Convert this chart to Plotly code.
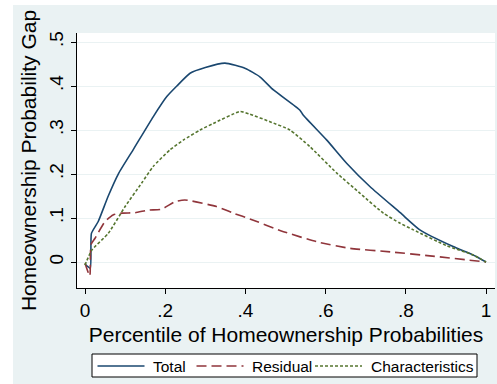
import plotly.graph_objects as go

# ---- data ----
total_x = [0, 0.013, 0.016, 0.033, 0.058, 0.083, 0.12, 0.17, 0.204, 0.229, 0.262, 0.3, 0.349,
           0.4, 0.436, 0.47, 0.536, 0.544, 0.603, 0.653, 0.711, 0.786, 0.835, 0.918, 0.968, 1.0]
total_y = [-0.005, -0.014, 0.065, 0.092, 0.15, 0.2, 0.255, 0.33, 0.376, 0.400, 0.429, 0.442, 0.452,
           0.44, 0.421, 0.391, 0.345, 0.334, 0.277, 0.224, 0.171, 0.112, 0.073, 0.035, 0.016, 0.0]

resid_x = [0, 0.012, 0.015, 0.025, 0.05, 0.07, 0.092, 0.125, 0.158, 0.191, 0.224, 0.249,
           0.328, 0.37, 0.411, 0.495, 0.578, 0.661, 0.761, 0.86, 1.0]
resid_y = [-0.003, -0.032, 0.04, 0.054, 0.092, 0.107, 0.111, 0.112, 0.118, 0.12, 0.137, 0.141,
           0.126, 0.111, 0.098, 0.069, 0.046, 0.031, 0.023, 0.014, 0.0]

char_x = [0, 0.017, 0.058, 0.1, 0.141, 0.17, 0.212, 0.245, 0.287, 0.32, 0.387, 0.411, 0.461,
          0.511, 0.561, 0.628, 0.686, 0.744, 0.786, 0.819, 0.902, 0.968, 1.0]
char_y = [-0.007, 0.027, 0.065, 0.126, 0.179, 0.217, 0.255, 0.277, 0.3, 0.315, 0.342, 0.336, 0.319,
          0.3, 0.262, 0.202, 0.156, 0.111, 0.088, 0.073, 0.037, 0.016, 0.0]

x_ticks = [0, 0.2, 0.4, 0.6, 0.8, 1.0]
x_tick_labels = ["0", ".2", ".4", ".6", ".8", "1"]
y_ticks = [0, 0.1, 0.2, 0.3, 0.4, 0.5]
y_tick_labels = ["0", ".1", ".2", ".3", ".4", ".5"]

series_names = ["Total", "Residual", "Characteristics"]
NAVY, MAROON, GREEN = "#1A476F", "#90353B", "#55752F"
BG = "#EAF2F3"
FONT = "Liberation Sans, Arial, sans-serif"

fig = go.Figure()
fig.add_trace(go.Scatter(x=total_x, y=total_y, mode="lines", name=series_names[0],
                         line=dict(color=NAVY, width=1.6, shape="spline", smoothing=0.5)))
fig.add_trace(go.Scatter(x=resid_x, y=resid_y, mode="lines", name=series_names[1],
                         line=dict(color=MAROON, width=1.6, dash="10px,5px", shape="spline", smoothing=0.5)))
fig.add_trace(go.Scatter(x=char_x, y=char_y, mode="lines", name=series_names[2],
                         line=dict(color=GREEN, width=1.6, dash="3px,2px", shape="spline", smoothing=0.5)))

# plot area: x 77..495, y 33..288 px
PL, PR, PT, PB = 77, 495, 33, 288
W, H = 497, 384
def px(x):
    return (x - PL) / (PR - PL)
def py(y):
    return (PB - y) / (PB - PT)

shapes = [
    dict(type="rect", xref="paper", yref="paper", x0=px(-2), x1=px(13), y0=py(-2), y1=py(H + 2),
         fillcolor="white", line=dict(width=0), layer="above"),
    dict(type="rect", xref="paper", yref="paper", x0=px(-2), x1=px(W + 2), y0=py(-2), y1=py(5),
         fillcolor="white", line=dict(width=0), layer="above"),
    dict(type="rect", xref="paper", yref="paper", x0=px(92), x1=px(477), y0=py(377), y1=py(354),
         fillcolor="white", line=dict(color="black", width=1)),
]
annotations = []
leg_y = 366
leg_items = [
    (97.5, 144.5, 151, NAVY, "solid"),
    (196.5, 243.5, 250, MAROON, "10px,5px"),
    (315, 362, 369, GREEN, "3px,2px"),
]
for (a, b, tx, col, dash), name in zip(leg_items, series_names):
    shapes.append(dict(type="line", xref="paper", yref="paper", x0=px(a), x1=px(b),
                       y0=py(leg_y), y1=py(leg_y), line=dict(color=col, width=1.6, dash=dash)))
    annotations.append(dict(xref="paper", yref="paper", x=px(tx), y=py(leg_y), text=name,
                            showarrow=False, xanchor="left", yanchor="middle",
                            font=dict(family=FONT, size=15.5, color="black")))

fig.update_layout(
    width=W, height=H,
    margin=dict(l=PL, r=W - PR, t=PT, b=H - PB, pad=0),
    paper_bgcolor=BG, plot_bgcolor="white",
    showlegend=False,
    font=dict(family=FONT, color="black"),
    shapes=shapes, annotations=annotations,
    xaxis=dict(range=[-0.01995, 1.0224], tickvals=x_ticks, ticktext=x_tick_labels,
               showgrid=False, zeroline=False, showline=True, linecolor="black", linewidth=1,
               ticks="outside", ticklen=5, tickcolor="black", tickfont=dict(size=19),
               title=dict(text="Percentile of Homeownership Probabilities", font=dict(size=21),
                          standoff=7)),
    yaxis=dict(range=[-0.0591, 0.5205], tickvals=y_ticks, ticktext=y_tick_labels,
               showgrid=True, gridcolor=BG, gridwidth=1, zeroline=False,
               showline=True, linecolor="black", linewidth=1,
               ticks="outside", ticklen=5, tickcolor="black", tickangle=-90,
               tickfont=dict(size=19),
               title=dict(text="Homeownership Probability Gap", font=dict(size=21), standoff=4)),
)

fig.write_html("out.html", config={"displayModeBar": False},
               post_script="document.body.style.margin='0';document.body.style.overflow='hidden';")
